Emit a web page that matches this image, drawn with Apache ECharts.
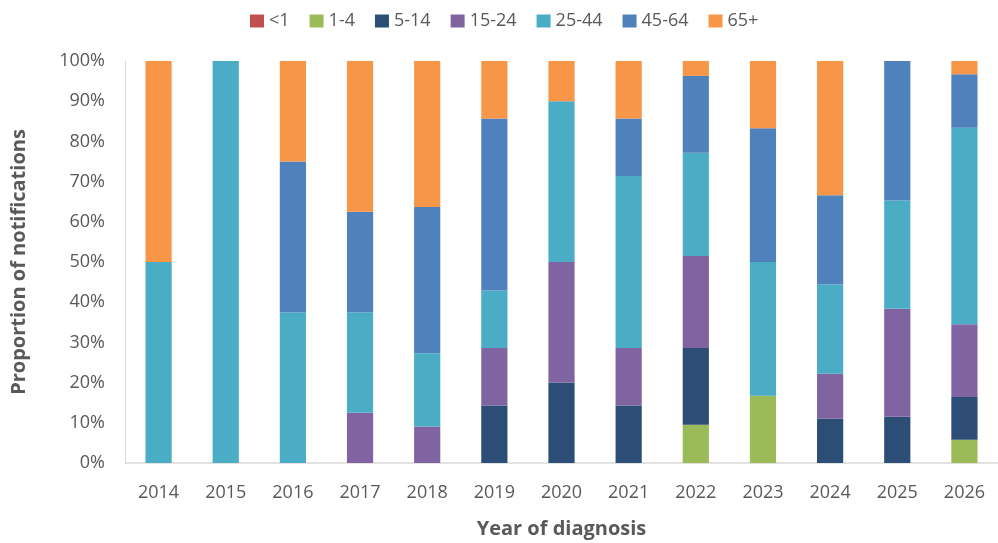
<!DOCTYPE html>
<html>
<head>
<meta charset="utf-8">
<script src="https://cdn.jsdelivr.net/npm/echarts@6/dist/echarts.min.js"></script>
<style>
  html, body { margin: 0; padding: 0; background: #fff; }
  #chart { width: 998px; height: 543px; }
</style>
</head>
<body>
<div id="chart"></div>
<script>
// year of diagnosis and age-group shares (% of notifications)
var years = ['2014','2015','2016','2017','2018','2019','2020','2021','2022','2023','2024','2025','2026'];
var ageGroups = ['<1','1-4','5-14','15-24','25-44','45-64','65+'];
var colors = ['#C0504D','#9BBB59','#2C4D75','#8064A2','#4BACC6','#4F81BD','#F79646'];

var lt1   = [0,0,0,0,0,0,0,0,0,0,0,0,0];
var a1_4  = [0,0,0,0,0,0,0,0,9.5,16.7,0,0,5.8];
var a5_14 = [0,0,0,0,0,14.3,20,14.3,19.1,0,11.1,11.5,10.6];
var a15_24= [0,0,0,12.5,9.1,14.3,30,14.3,22.9,0,11.1,26.9,18.1];
var a25_44= [50,100,37.5,25,18.2,14.3,40,42.8,25.7,33.3,22.2,26.9,48.9];
var a45_64= [0,0,37.5,25,36.4,42.8,0,14.3,19.1,33.3,22.2,34.7,13.3];
var a65   = [50,0,25,37.5,36.3,14.3,10,14.3,3.7,16.7,33.4,0,3.3];

var seriesData = [lt1, a1_4, a5_14, a15_24, a25_44, a45_64, a65];

var chart = echarts.init(document.getElementById('chart'));

var series = [];
for (var i = 0; i < ageGroups.length; i++) {
  series.push({
    name: ageGroups[i],
    type: 'bar',
    stack: 'total',
    barWidth: '39%',
    data: seriesData[i],
    itemStyle: { color: colors[i] }
  });
}

var option = {
  animation: false,
  textStyle: { fontFamily: 'Open Sans, DejaVu Sans, sans-serif' },
  legend: {
    data: ageGroups,
    top: 7,
    left: 245,
    itemWidth: 14,
    itemHeight: 13,
    itemGap: 20,
    icon: 'rect',
    textStyle: { color: '#595959', fontSize: 18 }
  },
  grid: { left: 125, right: 0, top: 61, bottom: 80, outerBoundsMode: 'none' },
  xAxis: {
    type: 'category',
    data: years,
    name: 'Year of diagnosis',
    nameLocation: 'middle',
    nameGap: 56,
    nameTextStyle: { color: '#595959', fontSize: 20, fontWeight: 'bold' },
    axisLine: { lineStyle: { color: '#d9d9d9', width: 1.5 } },
    axisTick: { show: false },
    axisLabel: { color: '#595959', fontSize: 18, margin: 21 }
  },
  yAxis: {
    type: 'value',
    min: 0,
    max: 100,
    interval: 10,
    name: 'Proportion of notifications',
    nameLocation: 'middle',
    nameGap: 96,
    nameTextStyle: { color: '#595959', fontSize: 20, fontWeight: 'bold' },
    axisLine: { show: true, lineStyle: { color: '#d9d9d9', width: 1 } },
    axisTick: { show: false },
    splitLine: { show: false },
    axisLabel: { color: '#595959', fontSize: 18, margin: 20, formatter: '{value}%' }
  },
  series: series
};

chart.setOption(option);
</script>
</body>
</html>
